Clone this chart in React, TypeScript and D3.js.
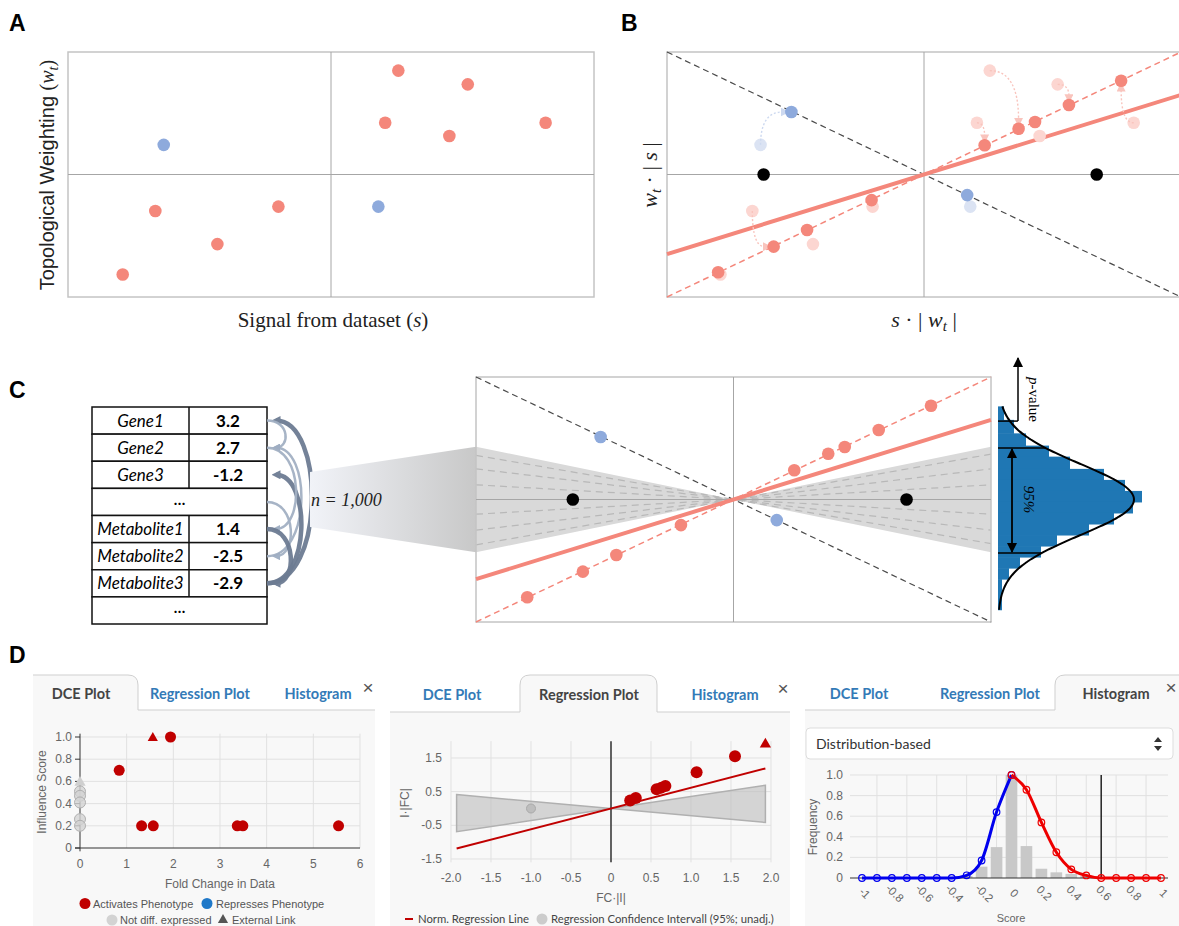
import React from 'react';
import * as d3 from 'd3';

const W = 1179;
const H = 926;

// ---------- A / B / C : toy network, normalised units (-1..1) ----------
// raw signal s and topological weight w_t of each node
const signalS = [0.256, 0.52, 0.206, 0.45, 0.816, -0.636, -0.668, -0.2, -0.432, -0.792, 0.18];
const weightW = [0.848, 0.736, 0.422, 0.314, 0.422, 0.242, -0.298, -0.262, -0.568, -0.816, -0.262];
const nodeEffect = ['act', 'act', 'act', 'act', 'act', 'rep', 'act', 'act', 'act', 'act', 'rep'];
// after scaling: s*|w_t| and w_t*|s|
const scaledX = [0.368, 0.564, 0.236, 0.432, 0.767, -0.516, -0.585, -0.204, -0.455, -0.801, 0.168];
const scaledY = [0.374, 0.567, 0.239, 0.429, 0.765, 0.51, -0.589, -0.209, -0.453, -0.798, -0.168];
const zeroSignalX = [-0.624, 0.672];
const fitSlope = 0.65;
const permSlopes = [-0.36, -0.25, -0.12, 0.12, 0.25, 0.37];
const nullCone = [-0.43, 0.43];

// C: input table + shuffles
const tableNames = ['Gene1', 'Gene2', 'Gene3', '...', 'Metabolite1', 'Metabolite2', 'Metabolite3', '...'];
const tableValues = ['3.2', '2.7', '-1.2', '', '1.4', '-2.5', '-2.9', ''];
const shuffleArcs = [[6, 0], [0, 1], [5, 1], [6, 2], [1, 4], [3, 5], [4, 6]];

// C: permutation distribution of slopes
const permBinEdges = [0.76, 0.65, 0.54, 0.44, 0.35, 0.25, 0.16, 0.07, -0.02, -0.11, -0.2, -0.29, -0.38, -0.47, -0.56, -0.65, -0.9];
const permBinCounts = [6, 16, 28, 51, 72, 106, 127, 144, 135, 116, 91, 59, 43, 22, 11, 4];
const nullMean = 0;
const nullSd = 0.29;
const nullPeak = 136;
const ci95 = [0.42, -0.437];
const observedStat = 0.64;

// ---------- D : screenshots ----------
const dceActX = [1.94, 0.84, 1.32, 1.57, 3.37, 3.49, 5.54];
const dceActY = [1.0, 0.7, 0.2, 0.2, 0.2, 0.2, 0.2];
const dceExtX = [1.56];
const dceExtY = [1.0];
const dceNdY = [0.51, 0.47, 0.41, 0.26, 0.2];
const dceNdExtY = [0.6];
const dceXTicks = [0, 1, 2, 3, 4, 5, 6];
const dceYTicks = [0, 0.2, 0.4, 0.6, 0.8, 1.0];

const regActX = [0.24, 0.31, 0.57, 0.63, 0.68, 1.07, 1.55];
const regActY = [0.24, 0.31, 0.57, 0.62, 0.67, 1.08, 1.55];
const regExtX = [1.93];
const regExtY = [1.94];
const regNdX = [-1.0];
const regNdY = [0.0];
const regSlope = 0.617;
const regBandSlopes = [-0.2145, 0.3566];
const regXTicks = [-2, -1.5, -1, -0.5, 0, 0.5, 1, 1.5, 2];
const regYTicks = [1.5, 0.5, -0.5, -1.5];

const histBarX = [-0.3, -0.2, -0.1, 0, 0.1, 0.2, 0.3, 0.4, 0.5];
const histBarY = [0.02, 0.11, 0.3, 1.0, 0.31, 0.09, 0.055, 0.04, 0.02];
const downX = [-1, -0.9, -0.8, -0.7, -0.6, -0.5, -0.4, -0.3, -0.2, -0.1, 0];
const downY = [0, 0, 0, 0, 0, 0, 0, 0.026, 0.17, 0.64, 1.0];
const upX = [0, 0.1, 0.2, 0.3, 0.4, 0.5, 0.6, 0.7, 0.8, 0.9, 1];
const upY = [1.0, 0.857, 0.54, 0.25, 0.084, 0.025, 0, 0, 0, 0, 0];
const histXTicks = [-1, -0.8, -0.6, -0.4, -0.2, 0, 0.2, 0.4, 0.6, 0.8, 1];
const histYTicks = [0, 0.2, 0.4, 0.6, 0.8, 1.0];
const scoreCutoff = 0.6;

const SALMON = '#f4877b';
const SALMON_PALE = '#fcd6d1';
const PERI = '#8eaadc';
const PERI_PALE = '#dbe3f3';
const DARKRED = '#c00000';
const TAB_BLUE = '#337ab7';
const SERIF = '"Liberation Serif", "DejaVu Serif", serif';
const SANS = '"Liberation Sans", Arial, sans-serif';

const fmt1 = (v: number) => (v === 0 ? '0' : v.toFixed(1));

function QuadFrame({ x, y }: any) {
  return (
    <g>
      <rect x={x(-1)} y={y(1)} width={x(1) - x(-1)} height={y(-1) - y(1)} fill="none" stroke="#c4c4c4" strokeWidth={1.5} />
      <line x1={x(0)} x2={x(0)} y1={y(1)} y2={y(-1)} stroke="#a6a6a6" />
      <line x1={x(-1)} x2={x(1)} y1={y(0)} y2={y(0)} stroke="#a6a6a6" />
    </g>
  );
}

function Diagonals({ x, y }: any) {
  return (
    <g>
      <line x1={x(-1)} y1={y(1)} x2={x(1)} y2={y(-1)} stroke="#4a4a4a" strokeWidth={1.2} strokeDasharray="6 4" />
      <line x1={x(-1)} y1={y(-1)} x2={x(1)} y2={y(1)} stroke={SALMON} strokeWidth={1.5} strokeDasharray="6 4" />
      <line x1={x(-1)} y1={y(-fitSlope)} x2={x(1)} y2={y(fitSlope)} stroke={SALMON} strokeWidth={4} />
    </g>
  );
}

function ScaledPoints({ x, y }: any) {
  return (
    <g>
      {scaledX.map((v, i) => (
        <circle key={i} cx={x(v)} cy={y(scaledY[i])} r={6.3} fill={nodeEffect[i] === 'act' ? SALMON : PERI} />
      ))}
      {zeroSignalX.map((v, i) => (
        <circle key={'z' + i} cx={x(v)} cy={y(0)} r={6.3} fill="#000" />
      ))}
    </g>
  );
}

function Tabs({ x1, y0, active, labels }: any) {
  // labels: [{text, cx}]
  return (
    <g fontFamily="Lato, sans-serif" fontWeight="bold" fontSize={14.5}>
      {labels.map((l: any, i: number) => (
        <text key={i} x={l.cx} y={y0 - 12} textAnchor="middle" fill={i === active ? '#444' : TAB_BLUE}>{l.text}</text>
      ))}
      <text x={x1} y={y0 - 17} textAnchor="middle" fontFamily={SANS} fontWeight="normal" fontSize={19} fill="#555">×</text>
    </g>
  );
}

export default function App() {
  // ---- Panel A ----
  const xA = d3.scaleLinear().domain([-1, 1]).range([68, 594]);
  const yA = d3.scaleLinear().domain([-1, 1]).range([297, 52]);
  // ---- Panel B ----
  const xB = d3.scaleLinear().domain([-1, 1]).range([667, 1181]);
  const yB = d3.scaleLinear().domain([-1, 1]).range([297, 52]);
  // ---- Panel C ----
  const xC = d3.scaleLinear().domain([-1, 1]).range([476, 991]);
  const yC = d3.scaleLinear().domain([-1, 1]).range([622, 377]);
  const histX = d3.scaleLinear().domain([0, 144]).range([998, 1142]);

  const rowTop = 407;
  const rowH = (624 - 407) / 8;
  const rowMid = (i: number) => rowTop + rowH * (i + 0.5);

  // arrows from raw to scaled positions (B)
  const arrows = signalS.map((s, i) => {
    const sx = xB(s), sy = yB(weightW[i]);
    const ex = xB(scaledX[i]), ey = yB(scaledY[i]);
    const topRight = s > 0 && weightW[i] > 0;
    const cx = topRight ? ex : sx;
    const cy = topRight ? sy : ey;
    const dx = ex - cx, dy = ey - cy;
    const len = Math.hypot(dx, dy) || 1;
    const tx = ex - (dx / len) * 9, ty = ey - (dy / len) * 9;
    const dist = Math.hypot(ex - sx, ey - sy);
    return { d: `M${sx},${sy} Q${cx},${cy} ${tx},${ty}`, rep: nodeEffect[i] === 'rep', show: dist > 16 };
  });

  const bowtie = (x: any, y: any) =>
    `M${x(-1)},${y(-nullCone[0])} L${x(0)},${y(0)} L${x(-1)},${y(-nullCone[1])} Z ` +
    `M${x(1)},${y(nullCone[1])} L${x(0)},${y(0)} L${x(1)},${y(nullCone[0])} Z`;

  const normalW = (v: number) => nullPeak * Math.exp(-0.5 * ((v - nullMean) / nullSd) ** 2);
  const normalPath = d3
    .line<number>()
    .x((v) => histX(normalW(v)))
    .y((v) => yC(v))
    .curve(d3.curveBasis)(d3.range(-0.9, 0.77, 0.01));

  // ---- D left ----
  const xD1 = d3.scaleLinear().domain([0, 6]).range([80, 360]);
  const yD1 = d3.scaleLinear().domain([0, 1]).range([848, 737]);
  // ---- D middle ----
  const xD2 = d3.scaleLinear().domain([-2, 2]).range([451, 771]);
  const yD2 = d3.scaleLinear().domain([-1.5, 1.5]).range([859, 758]);
  // ---- D right ----
  const xD3 = d3.scaleLinear().domain([-1, 1]).range([862, 1161]);
  const yD3 = d3.scaleLinear().domain([0, 1]).range([878, 775]);

  const tri = d3.symbol().type(d3.symbolTriangle);
  const spline = d3.line<number>().curve(d3.curveMonotoneX);
  const downPts = downX.map((v, i) => [xD3(v), yD3(downY[i])] as [number, number]);
  const upPts = upX.map((v, i) => [xD3(v), yD3(upY[i])] as [number, number]);
  const barW = xD3(0.078) - xD3(0);

  const bandEnds = [-1.93, 1.93];
  const bandPath =
    `M${xD2(bandEnds[0])},${yD2(regBandSlopes[0] * bandEnds[0])} L${xD2(0)},${yD2(0)} L${xD2(bandEnds[0])},${yD2(regBandSlopes[1] * bandEnds[0])} Z ` +
    `M${xD2(bandEnds[1])},${yD2(regBandSlopes[1] * bandEnds[1])} L${xD2(0)},${yD2(0)} L${xD2(bandEnds[1])},${yD2(regBandSlopes[0] * bandEnds[1])} Z`;

  return (
    <svg width={W} height={H} style={{ position: 'absolute', left: 0, top: 0, background: '#fff' }} fontFamily={SANS}>
      <defs>
        <marker id="arrSalmon" viewBox="0 0 10 10" refX="2" refY="5" markerWidth="9" markerHeight="9" markerUnits="userSpaceOnUse" orient="auto">
          <path d="M0,0 L10,5 L0,10 Z" fill="#f9c4bd" />
        </marker>
        <marker id="arrPeri" viewBox="0 0 10 10" refX="2" refY="5" markerWidth="9" markerHeight="9" markerUnits="userSpaceOnUse" orient="auto">
          <path d="M0,0 L10,5 L0,10 Z" fill="#cdd9f0" />
        </marker>
        <marker id="arrShuffleDark" viewBox="0 0 10 10" refX="5" refY="5" markerWidth="9" markerHeight="9" markerUnits="userSpaceOnUse" orient="auto">
          <path d="M0,0 L10,5 L0,10 Z" fill="#6d7c93" />
        </marker>
        <marker id="arrShuffleLight" viewBox="0 0 10 10" refX="5" refY="5" markerWidth="8" markerHeight="8" markerUnits="userSpaceOnUse" orient="auto">
          <path d="M0,0 L10,5 L0,10 Z" fill="#9eadc2" />
        </marker>
        <marker id="arrBlack" viewBox="0 0 10 10" refX="9" refY="5" markerWidth="10" markerHeight="10" markerUnits="userSpaceOnUse" orient="auto-start-reverse">
          <path d="M0,0 L10,5 L0,10 Z" fill="#000" />
        </marker>
        <linearGradient id="funnel" gradientUnits="userSpaceOnUse" x1={310} x2={476} y1={0} y2={0}>
          <stop offset="0" stopColor="#f1f3f8" />
          <stop offset="1" stopColor="#c8c8c8" />
        </linearGradient>
        <clipPath id="clipB">
          <rect x={0} y={0} width={W} height={H} />
        </clipPath>
      </defs>

      {/* panel letters */}
      <g fontFamily={SANS} fontWeight="bold" fontSize={23}>
        <text x={9} y={31}>A</text>
        <text x={621} y={31}>B</text>
        <text x={9} y={398}>C</text>
        <text x={9} y={663}>D</text>
      </g>

      {/* ================= A ================= */}
      <QuadFrame x={xA} y={yA} />
      {signalS.map((s, i) => (
        <circle key={i} cx={xA(s)} cy={yA(weightW[i])} r={6.3} fill={nodeEffect[i] === 'act' ? SALMON : PERI} />
      ))}
      <text transform="translate(54,175) rotate(-90)" textAnchor="middle" fontSize={20} fill="#222">
        Topological Weighting <tspan fontFamily={SERIF}>(</tspan>
        <tspan fontFamily={SERIF} fontStyle="italic">w</tspan>
        <tspan fontFamily={SERIF} fontStyle="italic" fontSize={14} dy={4}>t</tspan>
        <tspan fontFamily={SERIF} dy={-4}>)</tspan>
      </text>
      <text x={333} y={327} textAnchor="middle" fontFamily={SERIF} fontSize={21} fill="#222">
        Signal from dataset (<tspan fontStyle="italic">s</tspan>)
      </text>

      {/* ================= B ================= */}
      <g clipPath="url(#clipB)">
        <QuadFrame x={xB} y={yB} />
        <Diagonals x={xB} y={yB} />
        {signalS.map((s, i) => (
          <circle key={i} cx={xB(s)} cy={yB(weightW[i])} r={6.3} fill={nodeEffect[i] === 'act' ? SALMON_PALE : PERI_PALE} />
        ))}
        {arrows.map((a, i) =>
          a.show ? (
            <path key={i} d={a.d} fill="none" stroke={a.rep ? '#cdd9f0' : '#f9c4bd'} strokeWidth={1.4} strokeDasharray="2 2"
              markerEnd={a.rep ? 'url(#arrPeri)' : 'url(#arrSalmon)'} />
          ) : null
        )}
        <ScaledPoints x={xB} y={yB} />
      </g>
      <text transform="translate(657,175) rotate(-90)" textAnchor="middle" fontFamily={SERIF} fontSize={22} fill="#222">
        <tspan fontStyle="italic">w</tspan>
        <tspan fontStyle="italic" fontSize={15} dy={4}>t</tspan>
        <tspan dy={-4}> · | </tspan>
        <tspan fontStyle="italic">s</tspan> |
      </text>
      <text x={924} y={327} textAnchor="middle" fontFamily={SERIF} fontSize={22} fill="#222">
        <tspan fontStyle="italic">s</tspan> · | <tspan fontStyle="italic">w</tspan>
        <tspan fontStyle="italic" fontSize={15} dy={4}>t</tspan>
        <tspan dy={-4}> |</tspan>
      </text>

      {/* ================= C ================= */}
      {/* table */}
      <g>
        {tableNames.map((n, i) => {
          const merged = tableValues[i] === '';
          return (
            <g key={i}>
              <rect x={92} y={rowTop + rowH * i} width={175} height={rowH} fill="#fff" stroke="#111" strokeWidth={1.5} />
              {!merged && <line x1={189} x2={189} y1={rowTop + rowH * i} y2={rowTop + rowH * (i + 1)} stroke="#111" strokeWidth={1.5} />}
              {merged ? (
                <text x={179.5} y={rowMid(i) + 3} textAnchor="middle" fontFamily="Lato, sans-serif" fontWeight="bold" fontSize={15}>…</text>
              ) : (
                <>
                  <text x={140.5} y={rowMid(i) + 6} textAnchor="middle" fontFamily="Lato, sans-serif" fontStyle="italic" fontSize={17}>{n}</text>
                  <text x={228} y={rowMid(i) + 6} textAnchor="middle" fontFamily="Lato, sans-serif" fontWeight="bold" fontSize={17}>{tableValues[i]}</text>
                </>
              )}
            </g>
          );
        })}
        {shuffleArcs.map(([a, b], i) => {
          const ya = rowMid(a), yb = rowMid(b);
          const bulge = 16 + 0.26 * Math.abs(ya - yb);
          const dark = i % 3 === 0;
          return (
            <path key={i} d={`M267,${ya} C${267 + bulge},${ya} ${267 + bulge},${yb} 276,${yb}`} fill="none"
              stroke={dark ? '#6d7c93' : '#a3b1c4'} strokeWidth={dark ? 4.5 : 2.5}
              markerEnd={dark ? 'url(#arrShuffleDark)' : 'url(#arrShuffleLight)'} opacity={0.95} />
          );
        })}
      </g>

      {/* funnel to permutation plot */}
      <path d={`M310,472 L${xC(-1)},${yC(-nullCone[0])} L${xC(-1)},${yC(-nullCone[1])} L310,527 Z`} fill="url(#funnel)" />
      <text x={311} y={506} fontFamily={SERIF} fontStyle="italic" fontSize={18} fill="#222">n = 1,000</text>

      {/* permutation plot */}
      <rect x={xC(-1)} y={yC(1)} width={xC(1) - xC(-1)} height={yC(-1) - yC(1)} fill="#fff" />
      <path d={bowtie(xC, yC)} fill="#d9d9d9" />
      {permSlopes.map((s, i) => (
        <line key={i} x1={xC(-1)} y1={yC(-s)} x2={xC(1)} y2={yC(s)} stroke="#b8b8b8" strokeWidth={1.2} strokeDasharray="7 5" />
      ))}
      <QuadFrame x={xC} y={yC} />
      <Diagonals x={xC} y={yC} />
      <ScaledPoints x={xC} y={yC} />

      {/* permutation histogram */}
      {permBinCounts.map((c, i) => (
        <rect key={i} x={histX(0)} y={yC(permBinEdges[i])} width={histX(c) - histX(0)}
          height={yC(permBinEdges[i + 1]) - yC(permBinEdges[i]) + 0.5} fill="#1f77b4" />
      ))}
      <path d={normalPath || ''} fill="none" stroke="#000" strokeWidth={2} />
      {ci95.map((v, i) => (
        <line key={i} x1={histX(0)} x2={histX(normalW(v))} y1={yC(v)} y2={yC(v)} stroke="#000" strokeWidth={1.5} />
      ))}
      <line x1={1012} x2={1012} y1={yC(ci95[0]) + 1} y2={yC(ci95[1]) - 1} stroke="#000" strokeWidth={1.8}
        markerStart="url(#arrBlack)" markerEnd="url(#arrBlack)" />
      <text transform={`translate(1024,${yC(0)}) rotate(90)`} textAnchor="middle" fontFamily={SERIF} fontStyle="italic" fontSize={15}>95%</text>
      <line x1={histX(0)} x2={1018} y1={yC(observedStat)} y2={yC(observedStat)} stroke="#000" strokeWidth={1.5} />
      <line x1={1018} x2={1018} y1={yC(observedStat)} y2={358} stroke="#000" strokeWidth={1.5} markerEnd="url(#arrBlack)" />
      <text transform="translate(1029,377) rotate(90)" fontFamily={SERIF} fontSize={15}>
        <tspan fontStyle="italic">p</tspan>-value
      </text>

      {/* ================= D left : DCE plot ================= */}
      <rect x={33} y={710} width={342} height={216} fill="#f8f8f8" />
      <path d="M33,710 V675 H128 Q138,675 138,685 V710 Z" fill="#f8f8f8" />
      <path d="M33,675 H128 Q138,675 138,685 V710 H375" fill="none" stroke="#cfcfcf" />
      <Tabs x1={368} y0={711} active={0}
        labels={[{ text: 'DCE Plot', cx: 81 }, { text: 'Regression Plot', cx: 200 }, { text: 'Histogram', cx: 318 }]} />
      <g>
        {dceXTicks.slice(1).map((t) => (
          <line key={t} x1={xD1(t)} x2={xD1(t)} y1={yD1(1.03)} y2={yD1(0)} stroke="#e1e1e1" />
        ))}
        {dceYTicks.slice(1).map((t) => (
          <line key={t} x1={xD1(0)} x2={xD1(6)} y1={yD1(t)} y2={yD1(t)} stroke="#e1e1e1" />
        ))}
        <line x1={xD1(0)} x2={xD1(0)} y1={yD1(1.03)} y2={yD1(-0.03)} stroke="#333" />
        <line x1={xD1(0) - 5} x2={xD1(6)} y1={yD1(0)} y2={yD1(0)} stroke="#333" />
        {dceYTicks.map((t) => (
          <g key={t}>
            <line x1={xD1(0) - 5} x2={xD1(0)} y1={yD1(t)} y2={yD1(t)} stroke="#333" />
            <text x={xD1(0) - 8} y={yD1(t) + 4} textAnchor="end" fontSize={12} fill="#666">{fmt1(t)}</text>
          </g>
        ))}
        {dceXTicks.map((t) => (
          <text key={t} x={xD1(t)} y={868} textAnchor="middle" fontSize={12} fill="#666">{t}</text>
        ))}
        <text x={220} y={888} textAnchor="middle" fontSize={12} fill="#666">Fold Change in Data</text>
        <text transform="translate(46,792) rotate(-90)" textAnchor="middle" fontSize={12} fill="#666">Influence Score</text>
        {dceNdExtY.map((v, i) => (
          <path key={'ge' + i} d={tri.size(55)() || ''} transform={`translate(${xD1(0)},${yD1(v) + 1})`} fill="#cfcfcf" />
        ))}
        {dceNdY.map((v, i) => (
          <circle key={'g' + i} cx={xD1(0)} cy={yD1(v)} r={5.5} fill="#d3d3d3" fillOpacity={0.8} stroke="#b0b0b0" />
        ))}
        {dceActX.map((v, i) => (
          <circle key={'a' + i} cx={xD1(v)} cy={yD1(dceActY[i])} r={5.5} fill={DARKRED} />
        ))}
        {dceExtX.map((v, i) => (
          <path key={'e' + i} d={tri.size(45)() || ''} transform={`translate(${xD1(v)},${yD1(dceExtY[i]) + 1})`} fill={DARKRED} />
        ))}
        <g fontSize={11} fill="#555">
          <circle cx={85} cy={903.5} r={5.5} fill={DARKRED} />
          <text x={93} y={907.5}>Activates Phenotype</text>
          <circle cx={207} cy={903.5} r={5.5} fill="#1f78c8" />
          <text x={216} y={907.5}>Represses Phenotype</text>
          <circle cx={112} cy={920} r={5.5} fill="#d3d3d3" />
          <text x={120} y={924}>Not diff. expressed</text>
          <path d={tri.size(45)() || ''} transform="translate(223,920)" fill="#555" />
          <text x={232} y={924}>External Link</text>
        </g>
      </g>

      {/* ================= D middle : regression plot ================= */}
      <rect x={390} y={712} width={400} height={214} fill="#f8f8f8" />
      <path d="M520,712 V685 Q520,675 530,675 H647 Q657,675 657,685 V712 Z" fill="#f8f8f8" />
      <path d="M390,712 H520 V685 Q520,675 530,675 H647 Q657,675 657,685 V712 H790" fill="none" stroke="#cfcfcf" />
      <Tabs x1={783} y0={712} active={1}
        labels={[{ text: 'DCE Plot', cx: 452 }, { text: 'Regression Plot', cx: 589 }, { text: 'Histogram', cx: 725 }]} />
      <g>
        {regXTicks.map((t) => (
          <line key={t} x1={xD2(t)} x2={xD2(t)} y1={yD2(2.0)} y2={yD2(-1.6)} stroke="#e1e1e1" />
        ))}
        {regYTicks.map((t) => (
          <line key={t} x1={xD2(-2)} x2={xD2(2)} y1={yD2(t)} y2={yD2(t)} stroke="#e1e1e1" />
        ))}
        <path d={bandPath} fill="#bdbdbd" fillOpacity={0.6} stroke="#b0b0b0" strokeWidth={1.5} />
        <line x1={xD2(0)} x2={xD2(0)} y1={yD2(2.0)} y2={yD2(-1.6)} stroke="#333" strokeWidth={1.5} />
        <line x1={xD2(-1.93)} x2={xD2(1.93)} y1={yD2(-1.93 * regSlope)} y2={yD2(1.93 * regSlope)} stroke={DARKRED} strokeWidth={2} />
        {regYTicks.map((t) => (
          <text key={t} x={442} y={yD2(t) + 4} textAnchor="end" fontSize={12} fill="#666">{t.toFixed(1)}</text>
        ))}
        {regXTicks.map((t) => (
          <text key={t} x={xD2(t)} y={882} textAnchor="middle" fontSize={12} fill="#666">{t === 0 ? '0' : t.toFixed(1)}</text>
        ))}
        <text x={xD2(0)} y={902} textAnchor="middle" fontSize={12} fill="#666">FC·|I|</text>
        <text transform="translate(409,803) rotate(-90)" textAnchor="middle" fontSize={12} fill="#666">I·|FC|</text>
        {regNdX.map((v, i) => (
          <circle key={'g' + i} cx={xD2(v)} cy={yD2(regNdY[i])} r={4.5} fill="#bdbdbd" stroke="#aaa" />
        ))}
        {regActX.map((v, i) => (
          <circle key={'a' + i} cx={xD2(v)} cy={yD2(regActY[i])} r={6} fill={DARKRED} />
        ))}
        {regExtX.map((v, i) => (
          <path key={'e' + i} d={tri.size(55)() || ''} transform={`translate(${xD2(v)},${yD2(regExtY[i]) + 1})`} fill={DARKRED} />
        ))}
        <g fontFamily="Lato, sans-serif" fontSize={11.3} fill="#444">
          <line x1={405} x2={413} y1={919} y2={919} stroke={DARKRED} strokeWidth={2} />
          <text x={418} y={923}>Norm. Regression Line</text>
          <circle cx={542} cy={919} r={5.5} fill="#cccccc" />
          <text x={551} y={923}>Regression Confidence Intervall (95%; unadj.)</text>
        </g>
      </g>

      {/* ================= D right : histogram ================= */}
      <rect x={805} y={710} width={374} height={216} fill="#f8f8f8" />
      <path d="M1055,710 V685 Q1055,675 1065,675 H1179 V710 Z" fill="#f8f8f8" />
      <path d="M805,710 H1055 V685 Q1055,675 1065,675 H1179" fill="none" stroke="#cfcfcf" />
      <Tabs x1={1171} y0={711} active={2}
        labels={[{ text: 'DCE Plot', cx: 859 }, { text: 'Regression Plot', cx: 990 }, { text: 'Histogram', cx: 1116 }]} />
      <rect x={806} y={728} width={367} height={31} rx={4} fill="#fff" stroke="#dddddd" />
      <text x={816} y={749} fontFamily="Lato, sans-serif" fontSize={14} fill="#333">Distribution-based</text>
      <path d="M1154,742 L1158,737 L1162,742 Z M1154,746 L1162,746 L1158,751 Z" fill="#333" />
      <g>
        {histYTicks.slice(1).map((t) => (
          <line key={t} x1={850} x2={1168} y1={yD3(t)} y2={yD3(t)} stroke="#e1e1e1" />
        ))}
        {histXTicks.slice(0, -1).map((t) => (
          <line key={t} x1={xD3(t + 0.1)} x2={xD3(t + 0.1)} y1={yD3(1.0)} y2={yD3(0)} stroke="#e1e1e1" />
        ))}
        {histBarX.map((v, i) => (
          <rect key={i} x={xD3(v) - barW / 2} y={yD3(histBarY[i])} width={barW} height={yD3(0) - yD3(histBarY[i])} fill="#c8c8c8" />
        ))}
        <line x1={850} x2={1168} y1={yD3(0)} y2={yD3(0)} stroke="#333" />
        <line x1={xD3(scoreCutoff)} x2={xD3(scoreCutoff)} y1={yD3(1.0)} y2={yD3(0)} stroke="#222" strokeWidth={1.5} />
        <path d={spline(downPts as any) || ''} fill="none" stroke="#0000ee" strokeWidth={3} />
        <path d={spline(upPts as any) || ''} fill="none" stroke="#ee0000" strokeWidth={3} />
        {downPts.map((p, i) => (
          <circle key={'d' + i} cx={p[0]} cy={p[1]} r={3.3} fill="none" stroke="#0000ee" strokeWidth={1.2} />
        ))}
        {upPts.map((p, i) => (
          <circle key={'u' + i} cx={p[0]} cy={p[1]} r={3.3} fill="none" stroke="#ee0000" strokeWidth={1.2} />
        ))}
        {histYTicks.map((t) => (
          <text key={t} x={843} y={yD3(t) + 4} textAnchor="end" fontSize={12} fill="#666">{fmt1(t)}</text>
        ))}
        {histXTicks.map((t) => (
          <text key={t} transform={`translate(${xD3(t)},${896}) rotate(45)`} textAnchor="middle" fontSize={11.5} fill="#666">
            {t === 0 ? '0' : String(t)}
          </text>
        ))}
        <text x={1011} y={922} textAnchor="middle" fontSize={11} fill="#666">Score</text>
        <text transform="translate(817,827) rotate(-90)" textAnchor="middle" fontSize={12} fill="#666">Frequency</text>
      </g>
    </svg>
  );
}
